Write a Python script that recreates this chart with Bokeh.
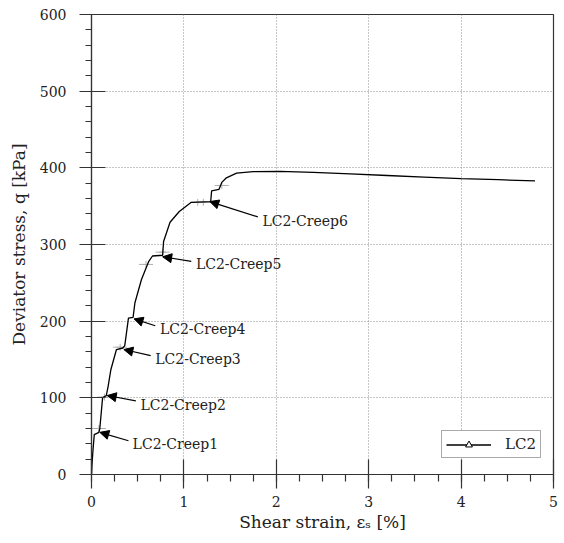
from bokeh.plotting import figure
from bokeh.models import (ColumnDataSource, Range1d, FixedTicker, Arrow, NormalHead,
                          Legend, LegendItem)
from bokeh.core.properties import value
from bokeh.embed import file_html
from bokeh.resources import INLINE

# ---- data ----
strain = [0, 0.005, 0.015, 0.03, 0.08, 0.09, 0.12, 0.16, 0.18, 0.21, 0.27, 0.34,
          0.36, 0.40, 0.45, 0.47, 0.54, 0.62, 0.66, 0.77, 0.78, 0.85, 0.95, 1.08,
          1.29, 1.30, 1.38, 1.41, 1.46, 1.57, 1.75, 2.04, 2.4, 2.8, 3.2, 3.6,
          4.0, 4.4, 4.8]
stress = [0, 12, 30, 52, 55, 60, 100, 103, 115, 137, 163, 165,
          168, 204, 205, 224, 254, 278, 285, 286, 304, 329, 343, 355,
          356, 370, 372, 381, 387, 393, 395, 395.5, 394, 392, 390, 388,
          386, 384.5, 383]

stage_x = [0.08, 0.14, 0.31, 0.59, 0.77, 1.15, 1.21, 1.41]
stage_y = [60, 101, 166, 274, 290, 355, 355, 377]

labels = ["LC2-Creep1", "LC2-Creep2", "LC2-Creep3", "LC2-Creep4", "LC2-Creep5", "LC2-Creep6"]
label_x = [0.445, 0.53, 0.69, 0.74, 1.13, 1.85]
label_y = [40, 91, 151, 190, 274, 331]
arrow_x0 = [0.40, 0.48, 0.64, 0.69, 1.08, 1.80]
arrow_y0 = [44, 96, 155, 194, 278, 336]
arrow_x1 = [0.09, 0.17, 0.35, 0.46, 0.77, 1.28]
arrow_y1 = [55, 103, 163, 203, 284, 356]

x_ticks = [0, 1, 2, 3, 4, 5]
y_ticks = [0, 100, 200, 300, 400, 500, 600]

FONT = "DejaVu Serif"
DARK = "#333333"

p = figure(width=563, height=542, output_backend="svg", toolbar_location=None,
           x_range=Range1d(0, 5), y_range=Range1d(0, 600),
           min_border_left=91, min_border_right=10, min_border_top=14, min_border_bottom=68)
p.background_fill_color = "white"
p.border_fill_color = "white"
p.outline_line_color = DARK
p.outline_line_width = 1.2
# a range that keeps the series' triangle markers out of view (legend only)
p.extra_y_ranges = {"legend_only": Range1d(-3000, -2000)}

p.xaxis.ticker = FixedTicker(ticks=x_ticks, minor_ticks=[i * 0.25 for i in range(21)])
p.yaxis.ticker = FixedTicker(ticks=y_ticks, minor_ticks=[i * 20 for i in range(31)])

for ax in (p.xaxis[0], p.yaxis[0]):
    ax.axis_line_color = DARK
    ax.axis_line_width = 1.2
    ax.major_tick_line_color = DARK
    ax.major_tick_line_width = 1.2
    ax.minor_tick_line_color = DARK
    ax.minor_tick_line_width = 1.2
    ax.minor_tick_in = 0
    ax.major_label_text_font = FONT
    ax.major_label_text_font_size = "14px"
    ax.major_label_text_color = "#222222"
    ax.axis_label_text_font = FONT
    ax.axis_label_text_font_size = "17px"
    ax.axis_label_text_font_style = "normal"
    ax.axis_label_text_color = "#222222"

p.xaxis.major_tick_in = 15
p.xaxis.major_tick_out = 14
p.xaxis.minor_tick_out = 7
p.xaxis.major_label_standoff = 7
p.xaxis.axis_label_standoff = 2
p.xaxis.axis_label = "Shear strain, \u03b5\u209b [%]"

p.yaxis.major_tick_in = 14
p.yaxis.major_tick_out = 12
p.yaxis.minor_tick_out = 6
p.yaxis.major_label_standoff = 13
p.yaxis.axis_label_standoff = 8
p.yaxis.axis_label = "Deviator stress, q [kPa]"

p.grid.grid_line_color = "#8c8c8c"
p.grid.grid_line_dash = "1 2"
p.grid.grid_line_width = 1

# gray stage markers
p.scatter(stage_x, stage_y, marker="dash", size=14, line_color="#b0b0b0", line_width=1)
p.scatter(stage_x, stage_y, marker="cross", size=7, line_color="#b0b0b0", line_width=1)

line_r = p.line(strain, stress, line_color="black", line_width=1.3)
tri_r = p.scatter(strain, stress, y_range_name="legend_only",
                  marker="triangle", size=8, fill_color="white",
                  line_color="black", line_width=1)

# annotations
asrc = ColumnDataSource(dict(x0=arrow_x0, y0=arrow_y0, x1=arrow_x1, y1=arrow_y1))
p.add_layout(Arrow(end=NormalHead(size=9, fill_color="black", line_color="black"),
                   x_start="x0", y_start="y0", x_end="x1", y_end="y1",
                   line_color="black", line_width=1.2, source=asrc))

tsrc = ColumnDataSource(dict(x=label_x, y=label_y, t=labels))
p.text(x="x", y="y", text="t", source=tsrc, text_font=value(FONT),
       text_font_size="14px", text_baseline="middle", text_align="left",
       text_color="#222222")

legend = Legend(items=[LegendItem(label="LC2", renderers=[line_r, tri_r])],
                location=(350, 16), border_line_color="#555555", border_line_width=1,
                label_text_font=FONT, label_text_font_size="15px",
                label_text_color="#222222", glyph_width=45, glyph_height=17,
                padding=4, margin=0, label_standoff=14, background_fill_alpha=1)
p.add_layout(legend, "center")

open("out.html", "w").write(file_html(p, INLINE))
